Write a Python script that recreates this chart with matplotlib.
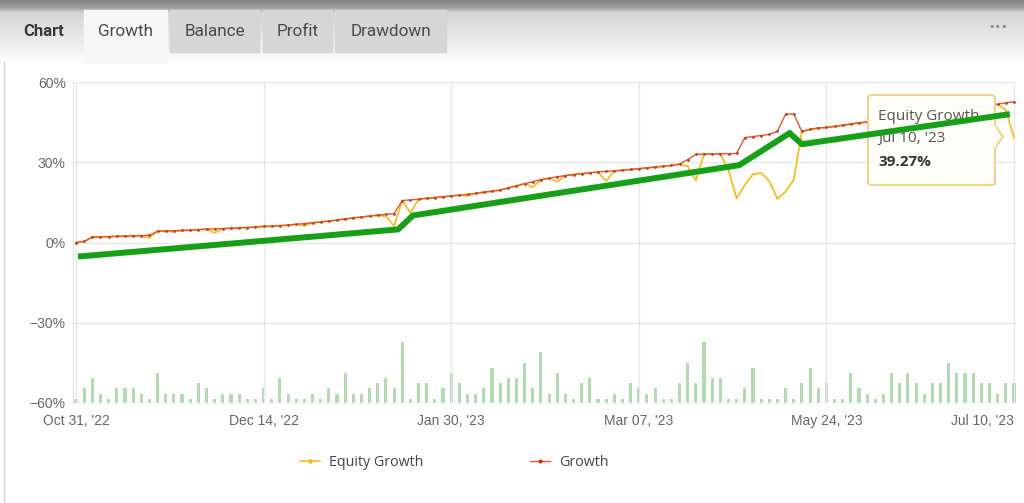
import matplotlib
matplotlib.use('Agg')
import matplotlib.pyplot as plt
from matplotlib.patches import Rectangle, FancyBboxPatch, Polygon
from matplotlib.lines import Line2D
from matplotlib.ticker import FuncFormatter
import numpy as np

# --- data ---
tick_idx = [0, 23, 46, 69, 92, 115]
tick_labels = ["Oct 31, '22", "Dec 14, '22", "Jan 30, '23", "Mar 07, '23", "May 24, '23", "Jul 10, '23"]

growth = [
    0.0, 0.4, 2.0, 2.1, 2.2, 2.3, 2.4, 2.5, 2.6, 2.7,
    4.2, 4.3, 4.4, 4.5, 4.6, 4.8, 5.0, 5.1, 5.2, 5.3,
    5.5, 5.6, 5.8, 6.0, 6.1, 6.3, 6.5, 6.8, 7.1, 7.4,
    7.7, 8.0, 8.4, 8.8, 9.2, 9.5, 9.9, 10.2, 10.5, 10.8,
    15.7, 15.9, 16.2, 16.5, 16.8, 17.1, 17.4, 17.7, 18.0, 18.4,
    18.8, 19.2, 19.6, 20.4, 21.2, 22.0, 22.7, 23.5, 24.0, 24.6,
    25.0, 25.4, 25.7, 26.1, 26.3, 26.6, 26.8, 27.0, 27.3, 27.6,
    27.9, 28.2, 28.5, 28.8, 29.3, 31.0, 32.9, 33.1, 33.1, 33.2,
    33.2, 33.3, 39.2, 39.6, 40.0, 40.4, 41.6, 48.0, 48.0, 41.5,
    42.3, 42.8, 43.0, 43.4, 43.8, 44.3, 44.7, 45.1, 45.5, 45.9,
    46.3, 46.7, 47.1, 47.5, 47.9, 48.3, 48.7, 49.1, 49.6, 50.0,
    50.5, 50.9, 51.3, 51.7, 52.2, 52.6,
]

equity = [
    0.0, 0.4, 2.0, 2.1, 2.2, 2.3, 2.4, 2.5, 2.4, 1.8,
    4.2, 4.3, 4.0, 4.5, 4.6, 4.8, 5.0, 3.6, 5.2, 5.3,
    5.5, 5.6, 5.8, 6.0, 6.1, 6.3, 6.5, 6.8, 6.3, 7.4,
    7.7, 8.0, 8.4, 8.8, 9.2, 9.5, 9.9, 10.2, 9.8, 6.1,
    15.7, 11.1, 16.2, 16.5, 16.8, 17.1, 17.4, 17.7, 17.4, 18.4,
    18.8, 19.2, 19.6, 20.4, 21.2, 22.0, 20.6, 23.5, 24.0, 22.8,
    25.0, 25.4, 25.7, 26.1, 26.3, 23.0, 26.8, 27.0, 27.3, 27.6,
    27.9, 28.2, 28.5, 28.8, 29.3, 28.5, 23.2, 33.1, 33.1, 33.2,
    27.0, 16.5, 21.5, 25.5, 26.0, 23.0, 16.3, 19.0, 23.5, 41.5,
    42.3, 42.8, 43.0, 43.4, 43.8, 44.3, 44.7, 45.1, 45.5, 45.9,
    46.3, 46.7, 47.1, 47.5, 47.9, 48.3, 48.7, 49.1, 49.6, 50.0,
    50.5, 50.9, 51.3, 51.6, 49.5, 39.27,
]

deals = [
    1, 3, 5, 2, 1, 3, 3, 3, 2, 1, 6, 2, 2, 2, 1, 4, 3, 1, 2, 2,
    2, 1, 1, 3, 1, 5, 2, 1, 1, 2, 1, 3, 2, 6, 2, 2, 3, 4, 5, 3,
    12, 1, 4, 4, 1, 3, 6, 4, 2, 2, 3, 7, 4, 5,
    5, 8, 3, 10, 2, 6, 2, 1, 4, 5, 1, 1, 2, 1, 4, 3, 2, 3, 1, 1, 4, 8, 4, 12,
    5, 5, 1, 1, 3, 7, 1, 1, 1, 3, 1, 4, 7, 3, 4, 1, 1, 6, 3, 2,
    1, 2, 6, 4, 6, 4, 2, 4, 4, 8, 6, 6, 6, 4, 4, 2, 4, 4,
]

# hand drawn green trend line on top of the chart
trend_x = [0.25, 39.5, 41.3, 81.3, 87.5, 89.0, 114.5]
trend_y = [-5.25, 4.9, 10.1, 28.9, 40.9, 36.75, 48.0]

tabs = ['Growth', 'Balance', 'Profit', 'Drawdown']

GROWTH_C = '#e3562b'
EQUITY_C = '#f3bd26'
BAR_C = '#b4dab4'
TREND_C = '#17a017'
GRID_C = '#e6e6e6'
TXT_C = '#666666'
TIP_EDGE = '#eed38a'

W, H = 1024, 503
fig = plt.figure(figsize=(W / 100, H / 100), dpi=100)
fig.patch.set_facecolor('white')

# --- header strip with tabs ---
hh = 64
hdr = fig.add_axes([0, 1 - hh / H, 1, hh / H])
hdr.set_xlim(0, W)
hdr.set_ylim(hh, 0)
hdr.axis('off')
rows = np.arange(hh)
shade = np.interp(rows, [0, 7, 12, 30, 52, 63], [0.52, 0.62, 0.83, 0.89, 0.96, 1.0])
grad = np.repeat(shade[:, None, None], 3, axis=2)
hdr.imshow(grad, extent=(0, W, hh, 0), aspect='auto', zorder=0)

tab_spans = [(84, 167), (170, 259), (263, 332), (335, 446)]
for i, (name, (x0, x1)) in enumerate(zip(tabs, tab_spans)):
    if i == 0:
        hdr.add_patch(Rectangle((x0, 10), x1 - x0, hh - 10, color='#f7f7f7', zorder=1))
    else:
        hdr.add_patch(Rectangle((x0, 10), x1 - x0, 42, color='#d6d6d6', zorder=1))
    hdr.text((x0 + x1) / 2, 31, name, ha='center', va='center', fontsize=12.3,
             family='Roboto', color='#4a4a4a', zorder=2)
hdr.text(44, 31, 'Chart', ha='center', va='center', fontsize=12, family='Roboto',
         fontweight='bold', color='#3a3a3a', zorder=2)
hdr.text(998, 27, '•••', ha='center', va='center', fontsize=8, color='#8a8a8a', zorder=2)

fig.add_artist(Line2D([4 / W, 4 / W], [0, 1 - 62 / H], transform=fig.transFigure,
                      color='#d4d4d4', lw=1))

# --- main plot ---
L, R, T, B = 73, 1016, 82, 403
ax = fig.add_axes([L / W, 1 - B / H, (R - L) / W, (B - T) / H])
ax2 = ax.twinx()
ax.set_zorder(2)
ax2.set_zorder(1)
ax.patch.set_visible(False)

x = np.arange(len(growth))

# bar counts on their own hidden scale
ax2.bar(x, deals, width=0.38, color=BAR_C, zorder=1)
ax2.set_ylim(0.19, 0.19 + (B - T) / 5.17)
ax2.set_yticks([])
for s in ax2.spines.values():
    s.set_visible(False)

ax.set_xlim(-0.37, 115.25)
ax.set_ylim(-60, 60)
ax.set_yticks([-60, -30, 0, 30, 60])
ax.yaxis.set_major_formatter(FuncFormatter(lambda v, _: f'{v:.0f}%'.replace('-', '\u2212')))
ax.set_xticks(tick_idx)
ax.set_xticklabels(tick_labels)
ax.grid(True, color=GRID_C, lw=1, zorder=0)
ax.tick_params(axis='both', length=0, labelsize=10, labelcolor=TXT_C)
ax.tick_params(axis='x', pad=8)
ax.tick_params(axis='y', pad=5.3)
for lab in ax.get_xticklabels() + ax.get_yticklabels():
    lab.set_family('Liberation Sans')
ax.get_xticklabels()[-1].set_ha('right')
for k, s in ax.spines.items():
    s.set_visible(k == 'left')
ax.spines['left'].set_color(GRID_C)

ax.plot(x, equity, color=EQUITY_C, lw=1.3, zorder=3)
ax.plot(x, growth, color=GROWTH_C, lw=1.0, marker='o', markersize=2,
        markerfacecolor='#b8402a', markeredgewidth=0, zorder=3)

# tooltip
tt = ax.transAxes
ax.add_patch(FancyBboxPatch((0.843, 0.679), 0.1347, 0.2804,
                            boxstyle='round,pad=0,rounding_size=0.006',
                            transform=tt, facecolor='#fffef9', edgecolor=TIP_EDGE, lw=1.5,
                            alpha=0.97, zorder=4, clip_on=False))
ax.add_patch(Polygon([(0.9777, 0.866), (0.9862, 0.829), (0.9777, 0.794)], closed=True,
                     transform=tt, facecolor='#fffef9', edgecolor=TIP_EDGE, lw=1.5,
                     zorder=4, clip_on=False))
ax.add_patch(Rectangle((0.9765, 0.797), 0.0025, 0.066, transform=tt, facecolor='#fffef9',
                       edgecolor='none', zorder=4.5, clip_on=False))
ax.text(0.8537, 0.8816, 'Equity Growth', transform=tt, fontsize=11, color='#555555',
        family='Open Sans', va='baseline', zorder=5)
ax.text(0.8537, 0.814, "Jul 10, '23", transform=tt, fontsize=11, color='#555555',
        family='Open Sans', va='baseline', zorder=5)
ax.text(0.8537, 0.738, f'{equity[-1]:.2f}%', transform=tt, fontsize=11, color='#333333',
        family='Open Sans', fontweight='bold', va='baseline', zorder=5)

ax.plot(trend_x, trend_y, color=TREND_C, lw=4.3, solid_joinstyle='miter',
        solid_capstyle='butt', zorder=6)

# legend
handles = [
    Line2D([], [], color=EQUITY_C, lw=1.2, marker='D', markersize=3, markeredgewidth=0),
    Line2D([], [], color=GROWTH_C, lw=1.0, marker='o', markersize=3,
           markerfacecolor='#b8402a', markeredgewidth=0),
]
fig.legend(handles, ['Equity Growth', 'Growth'], loc='center left',
           bbox_to_anchor=(300 / W, 1 - 463 / H), ncol=2, frameon=False,
           borderpad=0, borderaxespad=0, handlelength=1.4, handletextpad=0.65,
           columnspacing=7.4, prop={'family': 'Open Sans', 'size': 10.3},
           labelcolor='#444444')

fig.savefig('out.png', dpi=100)
